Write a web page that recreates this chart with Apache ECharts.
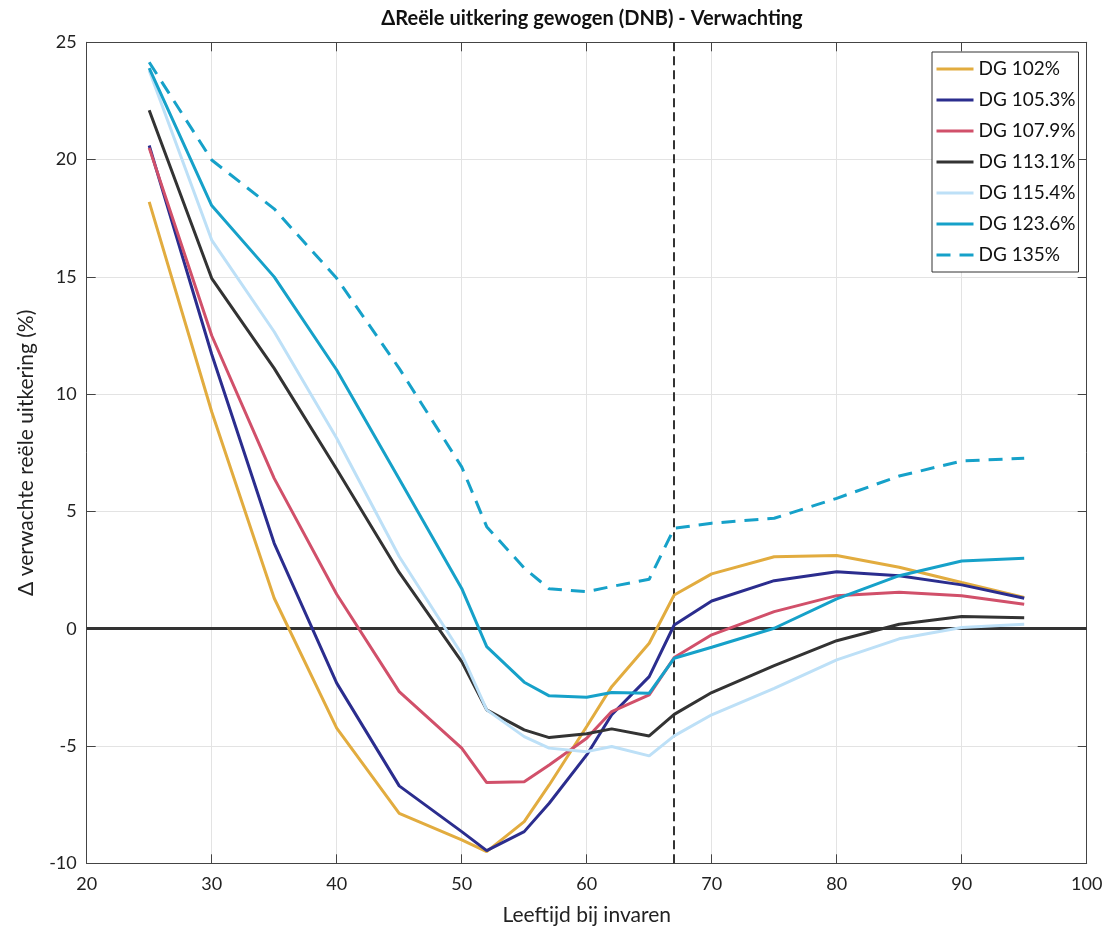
<!DOCTYPE html>
<html>
<head>
<meta charset="utf-8">
<script src="https://cdn.jsdelivr.net/npm/echarts@6/dist/echarts.min.js"></script>
<style>
html,body{margin:0;padding:0;background:#fff;}
#chart{width:1110px;height:932px;}
</style>
</head>
<body>
<div id="chart"></div>
<script>
const ages = [25,30,35,40,45,50,52,55,57,60,62,65,67,70,75,80,85,90,95];
const dg102  = [18.2, 9.25, 1.3, -4.24, -7.87, -9.0, -9.5, -8.22, -6.66, -4.17, -2.47, -0.62, 1.44, 2.34, 3.07, 3.12, 2.62, 1.97, 1.33];
const dg1053 = [20.6, 11.7, 3.64, -2.32, -6.70, -8.65, -9.46, -8.65, -7.44, -5.38, -3.67, -2.04, 0.16, 1.18, 2.05, 2.43, 2.26, 1.87, 1.30];
const dg1079 = [20.5, 12.5, 6.41, 1.47, -2.68, -5.09, -6.56, -6.52, -5.81, -4.67, -3.53, -2.82, -1.23, -0.26, 0.73, 1.41, 1.56, 1.41, 1.04];
const dg1131 = [22.1, 14.94, 11.1, 6.8, 2.4, -1.40, -3.46, -4.31, -4.64, -4.48, -4.27, -4.57, -3.65, -2.72, -1.57, -0.51, 0.19, 0.52, 0.47];
const dg1154 = [23.8, 16.57, 12.66, 8.12, 3.08, -1.08, -3.46, -4.6, -5.09, -5.24, -5.02, -5.42, -4.57, -3.67, -2.54, -1.33, -0.43, 0.05, 0.19];
const dg1236 = [23.9, 18.04, 15.0, 11.03, 6.38, 1.72, -0.76, -2.28, -2.86, -2.92, -2.72, -2.75, -1.26, -0.79, 0.02, 1.27, 2.26, 2.89, 3.0];
const dg135  = [24.15, 19.98, 17.9, 14.94, 11.1, 6.9, 4.35, 2.59, 1.70, 1.58, 1.8, 2.11, 4.28, 4.50, 4.71, 5.56, 6.51, 7.15, 7.27];
const seriesNames = ['DG 102%','DG 105.3%','DG 107.9%','DG 113.1%','DG 115.4%','DG 123.6%','DG 135%'];
const seriesValues = [dg102, dg1053, dg1079, dg1131, dg1154, dg1236, dg135];
const colors = ['#E2AC3F','#2B2D8E','#D1506A','#333333','#BDE0F7','#16A1C9','#16A1C9'];
const refAge = 67;

const FONT = 'Lato, "Open Sans", sans-serif';
const pair = (vals) => ages.map((a, i) => [a, vals[i]]);

const series = seriesNames.map((name, i) => ({
  name: name,
  type: 'line',
  data: pair(seriesValues[i]),
  showSymbol: false,
  symbol: 'none',
  z: 5 + i,
  lineStyle: {
    color: colors[i],
    width: 3,
    type: i === 6 ? [14, 9] : 'solid'
  },
  itemStyle: { color: colors[i] }
}));

series.push({
  name: 'ref',
  type: 'line',
  data: [],
  silent: true,
  z: 20,
  markLine: {
    silent: true,
    symbol: ['none','none'],
    label: { show: false },
    animation: false,
    data: [
      { xAxis: refAge, lineStyle: { color: '#333', width: 2, type: [9, 5] } },
      { yAxis: 0, lineStyle: { color: '#333', width: 3, type: 'solid' } }
    ]
  }
});

const chart = echarts.init(document.getElementById('chart'));
chart.setOption({
  animation: false,
  backgroundColor: '#fff',
  title: {
    text: 'ΔReële uitkering gewogen (DNB) - Verwachting',
    left: 587, top: 4, textAlign: 'center',
    textStyle: { fontFamily: FONT, fontSize: 20, fontWeight: 'bold', color: '#111' }
  },
  legend: {
    data: seriesNames,
    orient: 'vertical',
    left: 932, top: 52,
    backgroundColor: '#fff',
    borderColor: '#333', borderWidth: 1,
    padding: [7, 3, 7, 3],
    itemWidth: 37, itemHeight: 14, itemGap: 11,
    itemStyle: { opacity: 0, borderWidth: 0 },
    lineStyle: { width: 3 },
    textStyle: { fontFamily: FONT, fontSize: 19, color: '#111', lineHeight: 20 }
  },
  grid: { left: 86.7, top: 42.3, width: 1000, height: 821, containLabel: false },
  xAxis: [{
    type: 'value', min: 20, max: 100, interval: 10,
    name: 'Leeftijd bij invaren', nameLocation: 'middle', nameGap: 41,
    nameTextStyle: { fontFamily: FONT, fontSize: 21, color: '#222' },
    axisLine: { show: true, onZero: false, lineStyle: { color: '#444', width: 1 } },
    axisTick: { show: true, inside: true, length: 9, lineStyle: { color: '#444' } },
    axisLabel: { margin: 12, fontFamily: FONT, fontSize: 18, color: '#222' },
    splitLine: { show: true, lineStyle: { color: '#e3e3e3', width: 1 } }
  }, {
    type: 'value', min: 20, max: 100, interval: 10, position: 'top',
    axisLine: { show: true, onZero: false, lineStyle: { color: '#444', width: 1 } },
    axisTick: { show: true, inside: true, length: 9, lineStyle: { color: '#444' } },
    axisLabel: { show: false },
    splitLine: { show: false }
  }],
  yAxis: [{
    type: 'value', min: -10, max: 25, interval: 5,
    name: 'Δ verwachte reële uitkering (%)', nameLocation: 'middle', nameGap: 50,
    nameTextStyle: { fontFamily: FONT, fontSize: 21, color: '#222' },
    axisLine: { show: true, onZero: false, lineStyle: { color: '#444', width: 1 } },
    axisTick: { show: true, inside: true, length: 9, lineStyle: { color: '#444' } },
    axisLabel: { margin: 10, fontFamily: FONT, fontSize: 18, color: '#222' },
    splitLine: { show: true, lineStyle: { color: '#e3e3e3', width: 1 } }
  }, {
    type: 'value', min: -10, max: 25, interval: 5, position: 'right',
    axisLine: { show: true, onZero: false, lineStyle: { color: '#444', width: 1 } },
    axisTick: { show: true, inside: true, length: 9, lineStyle: { color: '#444' } },
    axisLabel: { show: false },
    splitLine: { show: false }
  }],
  series: series
});
</script>
</body>
</html>
